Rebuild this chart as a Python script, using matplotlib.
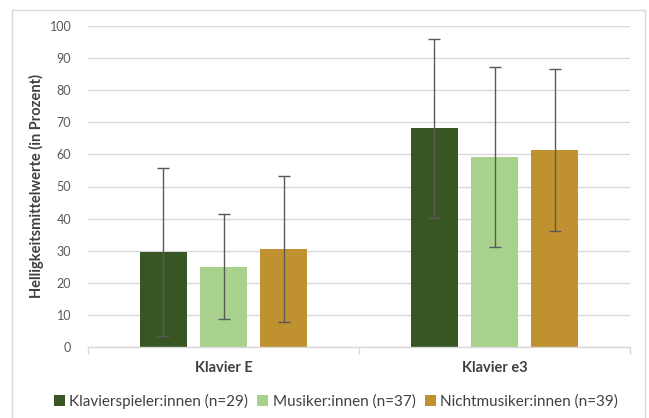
import matplotlib
matplotlib.use("Agg")
import matplotlib.pyplot as plt
from matplotlib.patches import Rectangle, Patch
import numpy as np

categories = ["Klavier E", "Klavier e3"]
series = ["Klavierspieler:innen (n=29)", "Musiker:innen (n=37)", "Nichtmusiker:innen (n=39)"]
means = [
    [29.7, 68.1],
    [25.0, 59.2],
    [30.5, 61.3],
]
errors = [
    [26.2, 27.8],
    [16.3, 28.1],
    [22.7, 25.2],
]
colors = ["#375623", "#a9d18e", "#bf9130"]
yticks = [0, 10, 20, 30, 40, 50, 60, 70, 80, 90, 100]

plt.rcParams["font.family"] = ["Lato", "DejaVu Sans"]

W, H = 649, 418
fig = plt.figure(figsize=(W / 100, H / 100), dpi=100)
ax = fig.add_axes([88 / W, 1 - 347 / H, (630 - 88) / W, (347 - 26) / H])

# outer chart frame
fig.patches.append(Rectangle((12 / W, -0.05), (645 - 12) / W, 1.05 - 10 / H,
                             transform=fig.transFigure, fill=False,
                             edgecolor="#d9d9d9", linewidth=1.0))

x = np.arange(len(categories))
offset = 0.222
width = 0.174
for i, (m, e, c, s) in enumerate(zip(means, errors, colors, series)):
    pos = x + (i - 1) * offset
    ax.bar(pos, m, width=width, color=c, label=s, zorder=2)
    ax.errorbar(pos, m, yerr=e, fmt="none", ecolor="#595959", elinewidth=1.0,
                capsize=4, capthick=1.0, zorder=3)

ax.set_xlim(-0.5, 1.5)
ax.set_ylim(0, 100)
ax.set_yticks(yticks)
ax.yaxis.grid(True, color="#d9d9d9", linewidth=1.0, zorder=0)
ax.set_axisbelow(True)
for sp in ["top", "right", "left"]:
    ax.spines[sp].set_visible(False)
ax.spines["bottom"].set_color("#d9d9d9")
ax.spines["bottom"].set_linewidth(1.0)

ax.set_xticks(x)
ax.set_xticklabels(categories, fontsize=10.5, fontweight="bold", color="#404040")
ax.tick_params(axis="x", length=0, pad=10)
ax.set_xticks([-0.5, 0.5, 1.5], minor=True)
ax.tick_params(axis="x", which="minor", length=5, color="#d9d9d9", width=1.0)
ax.tick_params(axis="y", length=0, labelsize=9, labelcolor="#595959", pad=12)

ax.set_ylabel("Helligkeitsmittelwerte (in Prozent)", fontsize=10.5, fontweight="bold",
              color="#404040", labelpad=4)

handles = [Patch(facecolor=c, label=s) for c, s in zip(colors, series)]
fig.legend(handles=handles, loc="center", bbox_to_anchor=(336 / W, 1 - 401 / H),
           ncol=3, frameon=False, fontsize=11, handlelength=0.7, handleheight=0.7,
           handletextpad=0.3, columnspacing=0.6, labelcolor="#404040")

fig.savefig("out.png", dpi=100)
